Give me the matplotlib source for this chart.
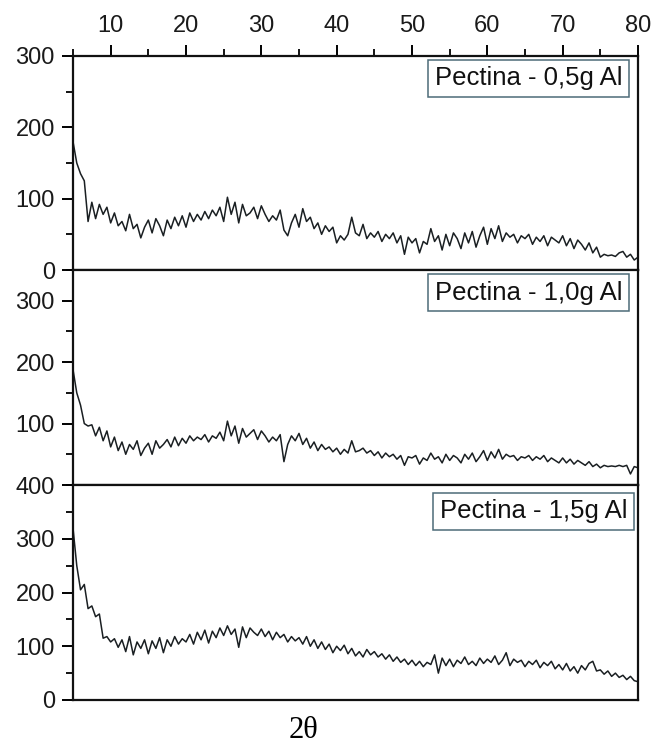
import numpy as np
import matplotlib
matplotlib.use("Agg")
import matplotlib.pyplot as plt
from matplotlib.ticker import MultipleLocator

plt.rcParams['font.family'] = ['Liberation Sans', 'DejaVu Sans']

# intensities, one point every 0.5 deg (2theta 5 -> 80)
pectina_05 = [
    180, 150, 135, 125, 68, 95, 72, 92, 78, 88,
    66, 80, 62, 68, 55, 78, 58, 64, 45, 60,
    70, 52, 72, 62, 48, 70, 58, 74, 62, 76,
    60, 80, 68, 78, 70, 82, 72, 84, 76, 88,
    68, 102, 78, 95, 66, 92, 76, 80, 88, 72,
    90, 78, 68, 76, 70, 84, 56, 48, 66, 78,
    60, 86, 68, 74, 58, 66, 50, 62, 54, 60,
    38, 48, 42, 50, 74, 52, 48, 64, 44, 52,
    46, 54, 40, 50, 44, 52, 38, 48, 22, 46,
    38, 44, 24, 40, 36, 58, 40, 48, 28, 50,
    34, 52, 44, 30, 52, 38, 54, 32, 48, 60,
    36, 58, 44, 62, 40, 52, 46, 50, 38, 48,
    44, 50, 36, 46, 40, 48, 34, 46, 42, 38,
    48, 34, 44, 30, 42, 36, 28, 38, 24, 32,
    18, 22, 20, 21, 19, 24, 26, 18, 22, 14,
    18,
]
pectina_10 = [
    188, 150, 130, 100, 96, 98, 80, 94, 72, 88,
    62, 78, 56, 70, 50, 66, 58, 72, 48, 60,
    68, 50, 72, 60, 66, 74, 62, 78, 64, 76,
    68, 80, 72, 78, 74, 82, 70, 80, 76, 86,
    72, 104, 80, 96, 68, 92, 78, 84, 90, 74,
    88, 80, 70, 78, 72, 82, 38, 66, 80, 72,
    84, 66, 76, 60, 70, 56, 66, 58, 62, 54,
    60, 50, 58, 52, 72, 54, 56, 60, 52, 56,
    48, 54, 44, 52, 46, 50, 42, 48, 32, 46,
    44, 48, 34, 44, 40, 52, 42, 46, 36, 50,
    40, 48, 44, 36, 50, 42, 52, 38, 46, 56,
    40, 54, 44, 58, 42, 50, 46, 48, 40, 46,
    44, 48, 40, 46, 42, 48, 38, 44, 40, 36,
    44, 36, 42, 34, 40, 36, 32, 38, 30, 34,
    28, 32, 30, 31, 30, 32, 30, 32, 18, 30,
    28,
]
pectina_15 = [
    320, 250, 205, 215, 170, 175, 155, 160, 115, 118,
    108, 114, 98, 112, 90, 118, 84, 108, 96, 112,
    86, 110, 96, 116, 88, 112, 100, 118, 104, 114,
    108, 122, 104, 126, 112, 130, 106, 128, 116, 134,
    120, 138, 122, 132, 98, 136, 116, 134, 126, 120,
    132, 118, 128, 112, 126, 116, 122, 108, 118, 110,
    116, 104, 118, 100, 112, 96, 108, 94, 104, 88,
    100, 92, 102, 86, 96, 82, 90, 80, 94, 84,
    90, 80, 86, 76, 84, 72, 80, 70, 76, 66,
    74, 64, 72, 62, 70, 66, 84, 50, 78, 64,
    76, 62, 74, 68, 80, 66, 72, 64, 78, 68,
    76, 70, 82, 66, 74, 88, 64, 76, 70, 74,
    62, 72, 66, 74, 60, 70, 64, 72, 58, 66,
    56, 68, 54, 62, 50, 64, 56, 68, 72, 54,
    56, 48, 54, 44, 50, 42, 46, 38, 44, 36,
    34,
]
two_theta = np.linspace(5, 80, len(pectina_05))

series = [pectina_05, pectina_10, pectina_15]
labels = ["Pectina - 0,5g Al", "Pectina - 1,0g Al", "Pectina - 1,5g Al"]
ylims = [300, 350, 400]
yticks = [[0, 100, 200, 300], [100, 200, 300], [0, 100, 200, 300, 400]]
# where the label boxes sit (axes fraction of the text's top-right corner)
label_pos = [(0.972, 0.952), (0.972, 0.950), (0.981, 0.934)]

fig = plt.figure(figsize=(6.53, 7.47), dpi=100)
left, width = 73 / 653, 565 / 653
rows = [(56, 270), (270, 485), (485, 700)]

for i, (top, bot) in enumerate(rows):
    ax = fig.add_axes([left, 1 - bot / 747, width, (bot - top) / 747])
    ax.plot(two_theta, series[i], color="#1a1f22", lw=1.1)
    ax.set_xlim(5, 80)
    ax.set_ylim(0, ylims[i])

    ax.set_yticks(yticks[i])
    ax.yaxis.set_minor_locator(MultipleLocator(50))
    ax.tick_params(axis="y", which="major", direction="out", length=8, width=1.4,
                   labelsize=17, pad=5, right=False, labelcolor="#1a1a1a")
    ax.tick_params(axis="y", which="minor", direction="out", length=5, width=1.3, right=False)

    if i == 0:
        ax.xaxis.tick_top()
        ax.set_xticks(range(10, 81, 10))
        ax.xaxis.set_minor_locator(MultipleLocator(5))
        ax.tick_params(axis="x", which="major", direction="out", length=8, width=1.4,
                       labelsize=17, pad=6, bottom=False, labelcolor="#1a1a1a")
        ax.tick_params(axis="x", which="minor", direction="out", length=5, width=1.3, bottom=False)
    else:
        ax.set_xticks([])
        ax.tick_params(axis="x", which="both", bottom=False, top=False)

    for sp in ax.spines.values():
        sp.set_linewidth(1.6)
        sp.set_color("#111111")

    ax.text(label_pos[i][0], label_pos[i][1], labels[i], transform=ax.transAxes,
            ha="right", va="top", fontsize=18.5, color="#111111",
            bbox=dict(boxstyle="square,pad=0.25", fc="white", ec="#4d6b78", lw=1.1))

fig.text(303 / 653, 1 - 731 / 747, "2θ", ha="center", va="center", fontsize=22,
         family="Liberation Serif")

fig.savefig("out.png", dpi=100)
